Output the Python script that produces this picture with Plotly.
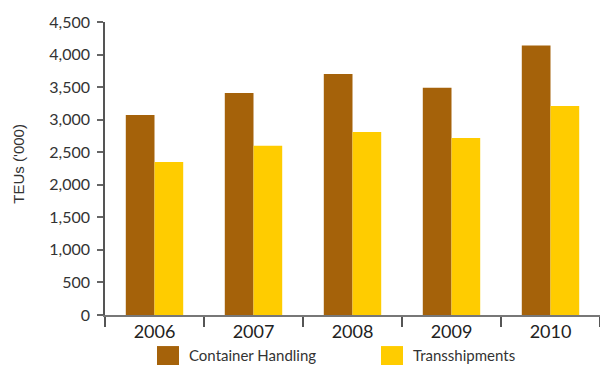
import plotly.graph_objects as go

years = ["2006", "2007", "2008", "2009", "2010"]
series_names = ["Container Handling", "Transshipments"]
container_handling = [3070, 3410, 3700, 3490, 4140]
transshipments = [2350, 2600, 2810, 2720, 3210]
y_ticks = [0, 500, 1000, 1500, 2000, 2500, 3000, 3500, 4000, 4500]
y_title = "TEUs ('000)"

colors = ["#A5620A", "#FFCC00"]
font_family = "Lato, 'Open Sans', sans-serif"

fig = go.Figure()
for name, vals, col in zip(series_names, [container_handling, transshipments], colors):
    fig.add_trace(go.Bar(x=years, y=vals, name=name, marker=dict(color=col, line=dict(width=0)),
                         showlegend=False))

# custom legend: large square swatches with labels below the axis
swatch_x = [0.105, 0.5576]
for name, col, lx in zip(series_names, colors, swatch_x):
    fig.add_shape(type="rect", xref="paper", yref="paper",
                  x0=lx, x1=lx + 22 / 495, y0=-0.106, y1=-0.171,
                  fillcolor=col, line=dict(width=0))
    fig.add_annotation(text=name, xref="paper", yref="paper",
                       x=lx + 30 / 495, y=-0.1365, xanchor="left", yanchor="middle",
                       showarrow=False, font=dict(family=font_family, size=15, color="#333333"))

# rotated y-axis title
fig.add_annotation(text=y_title, xref="paper", yref="paper", x=-0.1747, y=0.515,
                   xanchor="center", yanchor="middle", textangle=-90, showarrow=False,
                   font=dict(family="Liberation Sans, Arial, sans-serif", size=15, color="#333333"))

fig.update_layout(
    width=600, height=365,
    margin=dict(l=105, r=0, t=22, b=50),
    paper_bgcolor="white", plot_bgcolor="white",
    barmode="group", bargap=0.42, bargroupgap=0,
    font=dict(family=font_family, color="#333333"),
)
fig.update_xaxes(
    type="category", showline=True, linecolor="#777777", linewidth=1.5,
    ticks="outside", tickson="boundaries", ticklen=10, tickcolor="#555555", tickwidth=1.5,
    tickfont=dict(size=18, color="#222222"), showgrid=False,
)
fig.update_yaxes(
    range=[0, 4500], tickvals=y_ticks, tickformat=",d",
    showline=True, linecolor="#555555", linewidth=1.5,
    ticks="outside", ticklen=6, tickcolor="#666666", tickwidth=1.5,
    tickfont=dict(size=16, color="#333333"), showgrid=False, zeroline=False,
    ticklabelstandoff=4,
)

fig.write_html("out.html")
